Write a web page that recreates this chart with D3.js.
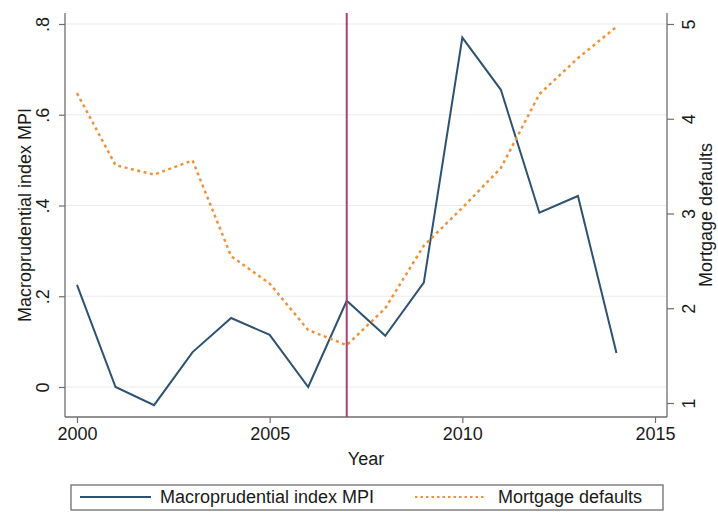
<!DOCTYPE html>
<html>
<head>
<meta charset="utf-8">
<script src="https://cdn.jsdelivr.net/npm/d3@7"></script>
<style>
body{margin:0;background:#fff;}
text{font-family:"Liberation Sans",Arial,sans-serif;}
</style>
</head>
<body>
<div id="chart"></div>
<script>

// DATA

const years = [2000,2001,2002,2003,2004,2005,2006,2007,2008,2009,2010,2011,2012,2013,2014]
const mpi = [0.225,0.0,-0.04,0.077,0.152,0.115,0.0,0.19,0.113,0.23,0.77,0.655,0.384,0.421,0.075]
const defaults = [4.27,3.51,3.41,3.56,2.55,2.26,1.77,1.61,2.0,2.66,3.06,3.48,4.26,4.64,4.97]
const xTicks = [2000,2005,2010,2015]
const leftTicks = [0,0.2,0.4,0.6,0.8]
const rightTicks = [1,2,3,4,5]
const markYear = 2007

const width = 718
const height = 512
const margin = {top:13,right:51,bottom:95,left:65}
const fs = "18px"

const svg = d3.select("#chart")
.append("svg")
.attr("width",width)
.attr("height",height)

const x = d3.scaleLinear()
.domain([2000,2015])
.range([77,655])

const yL = d3.scaleLinear()
.domain([0,0.8])
.range([387,24])

const yR = d3.scaleLinear()
.domain([1,5])
.range([403,24])

const left = margin.left
const right = width-margin.right
const bottom = height-margin.bottom

// GRID

svg.append("g")
.selectAll("line")
.data(leftTicks)
.enter()
.append("line")
.attr("x1",left)
.attr("x2",right)
.attr("y1",d=>yL(d))
.attr("y2",d=>yL(d))
.attr("stroke","#ebebeb")
.attr("stroke-width",1)

// AXES

const fmtL = d=>d===0?"0":d3.format(".1f")(d).replace(/^0/,"")

const gL = svg.append("g")
.attr("transform",`translate(${left},0)`)
.call(d3.axisLeft(yL).tickValues(leftTicks).tickSize(6).tickFormat(fmtL))
gL.select(".domain").attr("d",`M0,${margin.top}V${bottom}`)

const gR = svg.append("g")
.attr("transform",`translate(${right},0)`)
.call(d3.axisRight(yR).tickValues(rightTicks).tickSize(7).tickFormat(d3.format("d")))
gR.select(".domain").attr("d",`M0,${margin.top}V${bottom}`)

const gB = svg.append("g")
.attr("transform",`translate(0,${bottom})`)
.call(d3.axisBottom(x).tickValues(xTicks).tickSize(6).tickFormat(d3.format("d")))
gB.select(".domain").attr("d",`M${left},0H${right}`)

svg.selectAll(".domain").attr("stroke","#6e6e6e").attr("stroke-width",1.3)
svg.selectAll(".tick line").attr("stroke","#6e6e6e").attr("stroke-width",1.2)
svg.selectAll(".tick text").attr("fill","#1a1a1a").style("font-size",fs)

gB.selectAll(".tick text").attr("y",10)

gL.selectAll(".tick text")
.attr("x",null).attr("dy",null)
.attr("text-anchor","middle")
.attr("transform","translate(-16,0) rotate(-90)")

gR.selectAll(".tick text")
.attr("x",null).attr("dy",null)
.attr("text-anchor","middle")
.attr("transform","translate(28,0) rotate(-90)")

// AXIS TITLES

svg.append("text")
.attr("transform","translate(31,215) rotate(-90)")
.attr("text-anchor","middle")
.style("font-size",fs)
.attr("fill","#1a1a1a")
.text("Macroprudential index MPI")

svg.append("text")
.attr("transform","translate(712,215) rotate(-90)")
.attr("text-anchor","middle")
.style("font-size",fs)
.attr("fill","#1a1a1a")
.text("Mortgage defaults")

svg.append("text")
.attr("x",(left+right)/2)
.attr("y",465)
.attr("text-anchor","middle")
.style("font-size",fs)
.attr("fill","#1a1a1a")
.text("Year")

// LINES

const mpiLine = d3.line()
.x((d,i)=>x(years[i]))
.y(d=>yL(d))

svg.append("path")
.datum(mpi)
.attr("fill","none")
.attr("stroke","#2e5273")
.attr("stroke-width",2)
.attr("d",mpiLine)

const defLine = d3.line()
.x((d,i)=>x(years[i]))
.y(d=>yR(d))

svg.append("path")
.datum(defaults)
.attr("fill","none")
.attr("stroke","#f0923a")
.attr("stroke-width",2.5)
.attr("stroke-dasharray","3,3.5")
.attr("d",defLine)

// VERTICAL MARK

svg.append("line")
.attr("x1",x(markYear))
.attr("x2",x(markYear))
.attr("y1",margin.top)
.attr("y2",bottom)
.attr("stroke","#a8436f")
.attr("stroke-width",2)

// LEGEND

const lg = svg.append("g")

lg.append("rect")
.attr("x",71)
.attr("y",485)
.attr("width",592)
.attr("height",25)
.attr("fill","#fff")
.attr("stroke","#6e6e6e")
.attr("stroke-width",1.3)

lg.append("line")
.attr("x1",80).attr("x2",151)
.attr("y1",497).attr("y2",497)
.attr("stroke","#2e5273")
.attr("stroke-width",2)

lg.append("text")
.attr("x",160).attr("y",503)
.style("font-size",fs)
.attr("fill","#1a1a1a")
.text("Macroprudential index MPI")

lg.append("line")
.attr("x1",415).attr("x2",486)
.attr("y1",497).attr("y2",497)
.attr("stroke","#f0923a")
.attr("stroke-width",2)
.attr("stroke-dasharray","2.5,3")

lg.append("text")
.attr("x",498).attr("y",503)
.style("font-size",fs)
.attr("fill","#1a1a1a")
.text("Mortgage defaults")

</script>
</body>
</html>
